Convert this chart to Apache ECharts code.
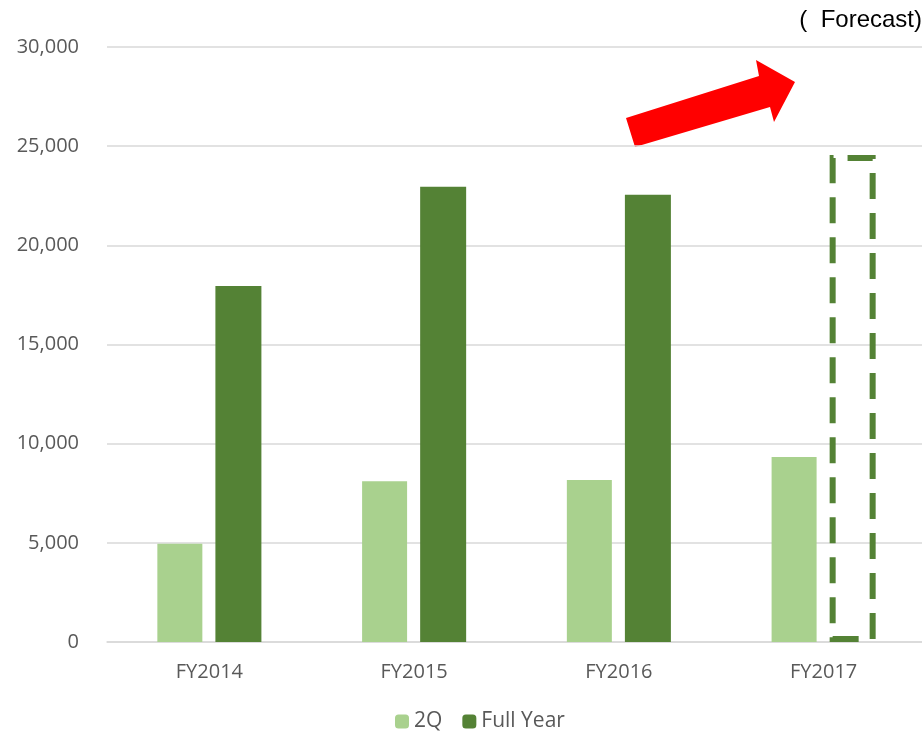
<!DOCTYPE html>
<html>
<head>
<meta charset="utf-8">
<script src="https://cdn.jsdelivr.net/npm/echarts@6/dist/echarts.min.js"></script>
<style>
  html, body { margin: 0; padding: 0; background: #fff; }
  #chart { width: 922px; height: 739px; }
</style>
</head>
<body>
<div id="chart"></div>
<script>
const categories = ["FY2014", "FY2015", "FY2016", "FY2017"];
const q2Values = [4950, 8100, 8170, 9330];
const fullYearValues = [17950, 22950, 22550, 24550];

const chart = echarts.init(document.getElementById("chart"));

// last full-year bar is the forecast: dashed outline, no fill
const fullYearData = fullYearValues.map((v, i) => {
  if (i === fullYearValues.length - 1) {
    return {
      value: v,
      itemStyle: {
        color: "rgba(0,0,0,0)",
        borderColor: "#548235",
        borderWidth: 6,
        borderType: [26, 14]
      }
    };
  }
  return v;
});

const option = {
  animation: false,
  grid: { left: 107, right: -4, top: 47, bottom: 97, outerBoundsMode: "none" },
  legend: {
    bottom: 2,
    left: 390,
    itemWidth: 14,
    itemHeight: 14,
    itemGap: 20,
    textStyle: { color: "#595959", fontSize: 21, fontFamily: "Open Sans" },
    data: ["2Q", "Full Year"]
  },
  xAxis: {
    type: "category",
    data: categories,
    axisTick: { show: false },
    axisLine: { lineStyle: { color: "#d9d9d9", width: 1.5 } },
    axisLabel: { color: "#595959", fontSize: 20, margin: 20, fontFamily: "Open Sans" }
  },
  yAxis: {
    type: "value",
    min: 0,
    max: 30000,
    interval: 5000,
    axisLabel: {
      color: "#595959",
      fontSize: 20,
      margin: 28,
      fontFamily: "Open Sans",
      formatter: v => v.toLocaleString("en-US")
    },
    splitLine: { lineStyle: { color: "#d9d9d9", width: 1.5 } }
  },
  series: [
    {
      name: "2Q",
      type: "bar",
      barWidth: 45,
      barGap: "29%",
      itemStyle: { color: "#a9d18e" },
      data: q2Values
    },
    {
      name: "Full Year",
      type: "bar",
      barWidth: 46,
      itemStyle: { color: "#548235" },
      data: fullYearData
    }
  ],
  graphic: [
    {
      type: "polygon",
      shape: {
        points: [[626, 118], [759, 76], [756, 60], [795, 82], [774, 122], [770, 107], [635, 147]]
      },
      style: { fill: "#ff0000" }
    },
    {
      type: "text",
      right: 0,
      top: 8,
      style: {
        text: "(  Forecast)",
        fill: "#000",
        font: "24px 'Liberation Sans', Arial, sans-serif"
      }
    }
  ]
};

chart.setOption(option);
window.addEventListener("resize", () => chart.resize());
</script>
</body>
</html>
